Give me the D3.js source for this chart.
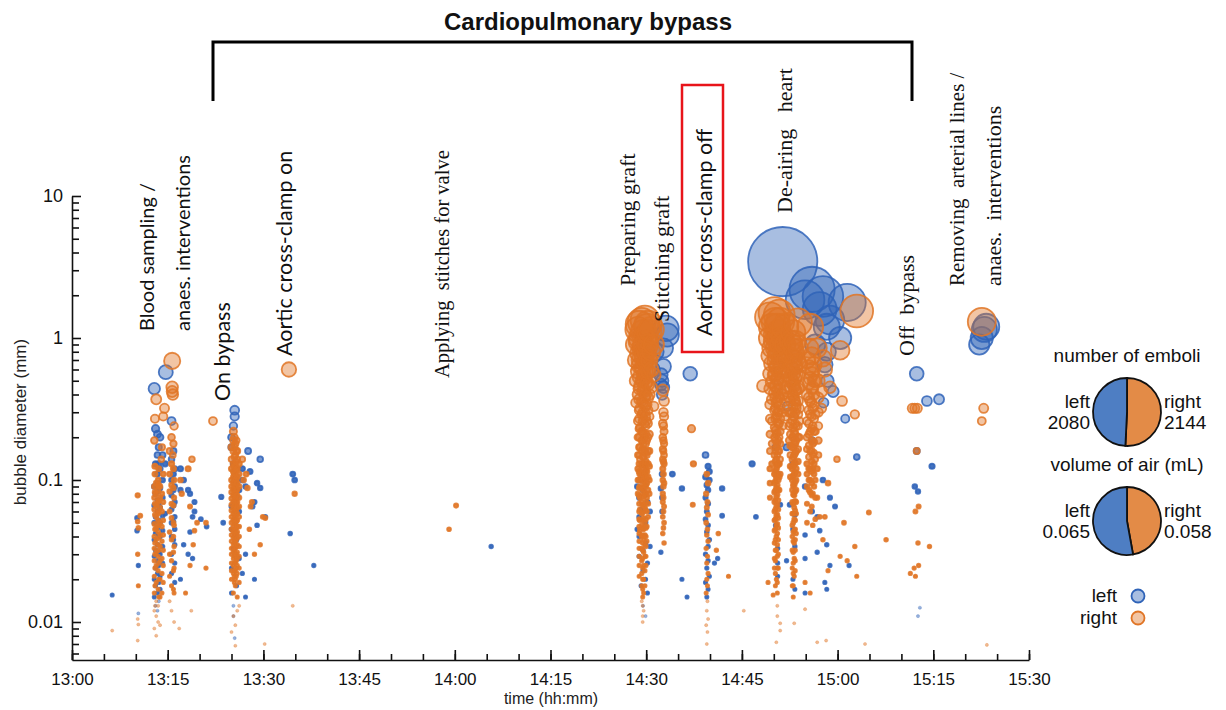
<!DOCTYPE html>
<html>
<head>
<meta charset="utf-8">
<script src="https://cdn.jsdelivr.net/npm/d3@7"></script>
<style>
  body { margin: 0; background: #fff; }
  text { font-family: "Liberation Sans", Arial, sans-serif; }
</style>
</head>
<body>
<svg id="chart" width="1226" height="710"></svg>
<script>
// each row: minutes after 13:00, then the bubble diameters (mm) seen at that time
var leftEmboli = [
  [6.3, [0.0155]],
  [10.2, [0.054, 0.044]], [10.4, [0.025, 0.0115]],
  [12.9, [0.44, 0.09, 0.066, 0.05, 0.038, 0.029, 0.02, 0.015]],
  [13.1, [0.23, 0.13, 0.08, 0.055, 0.042, 0.032, 0.024, 0.018, 0.013]],
  [13.4, [0.21, 0.15, 0.11, 0.095, 0.072, 0.06, 0.046, 0.035, 0.027, 0.022, 0.016, 0.012]],
  [13.6, [0.17, 0.13, 0.084, 0.068, 0.052, 0.041, 0.031, 0.025, 0.019, 0.014]],
  [13.8, [0.2, 0.12, 0.088, 0.064, 0.05, 0.04, 0.03, 0.021, 0.017]],
  [14.2, [0.15, 0.1, 0.075, 0.056, 0.044, 0.034, 0.026]],
  [14.6, [0.13, 0.058]], [14.7, [0.575]],
  [15.6, [0.26, 0.14, 0.1, 0.078, 0.062, 0.05, 0.04, 0.03, 0.022]],
  [15.9, [0.16, 0.11, 0.085, 0.066, 0.051, 0.038]],
  [16.1, [0.12, 0.09, 0.07, 0.055, 0.045, 0.035, 0.026, 0.019]],
  [17.0, [0.12, 0.085, 0.02]], [17.5, [0.1, 0.035]],
  [18.2, [0.085, 0.03]], [18.5, [0.08, 0.043]], [18.9, [0.055, 0.028]], [19.2, [0.06, 0.07]],
  [20.2, [0.053]], [21.1, [0.047]],
  [23.4, [0.076]], [23.7, [0.05]],
  [25.0, [0.2, 0.17, 0.065, 0.045, 0.024, 0.016]],
  [25.3, [0.24, 0.13, 0.033, 0.013, 0.011]],
  [25.5, [0.31, 0.28, 0.0077]],
  [25.8, [0.1, 0.075, 0.038, 0.018]],
  [26.2, [0.085, 0.028, 0.06]],
  [26.7, [0.12, 0.1, 0.022]],
  [27.2, [0.09, 0.03, 0.015]],
  [27.6, [0.16]], [27.9, [0.115]], [28.3, [0.065]], [28.6, [0.07, 0.02]],
  [29.0, [0.095, 0.048]], [29.5, [0.14, 0.088]], [30.3, [0.055]],
  [34.2, [0.042]], [34.6, [0.11]], [34.9, [0.1]], [37.9, [0.025]],
  [65.7, [0.034]],
  [88.6, [0.09, 0.045]], [88.9, [0.075, 0.055, 0.04, 0.029]],
  [89.2, [0.1, 0.062, 0.018]], [89.5, [0.085, 0.032, 0.023, 0.013]],
  [89.9, [0.05, 0.036, 0.02, 0.011]], [90.2, [0.07, 0.026, 0.016]], [90.6, [0.06, 0.034]],
  [91.0, [0.6]], [91.3, [0.8]],
  [92.3, [0.55, 0.47, 0.087, 0.031]], [92.5, [0.5, 0.4, 0.11, 0.075, 0.06]], [92.7, [0.85, 0.63, 0.45]],
  [93.1, [1.17]], [93.3, [1.05]],
  [94.1, [0.11]], [95.6, [0.087, 0.02]], [96.4, [0.015]], [96.9, [0.56]],
  [99.3, [0.15, 0.105, 0.075, 0.053, 0.03, 0.019]],
  [99.5, [0.092, 0.06, 0.043, 0.024, 0.015]],
  [99.7, [0.125, 0.085, 0.068, 0.048, 0.034, 0.027, 0.017]],
  [99.9, [0.115, 0.1, 0.038, 0.021]],
  [100.7, [0.026]], [101.2, [0.028]], [101.9, [0.087, 0.056]],
  [106.6, [0.13]], [107.2, [0.055]],
  [110.3, [0.17, 0.048]], [110.6, [0.11, 0.033, 0.026, 0.021]], [111.0, [0.067]], [111.4, [3.45]],
  [112.0, [0.17, 0.027]], [112.1, [0.33]], [112.5, [0.067]],
  [113.0, [0.13, 0.045, 0.02]], [113.3, [0.057, 0.034, 0.017]],
  [114.9, [1.86, 0.09, 0.041, 0.028, 0.016]],
  [116.0, [2.2, 0.19, 0.06]], [116.5, [0.9]], [116.8, [0.055, 0.031]],
  [117.2, [1.6, 0.044]], [117.7, [1.96, 0.1]],
  [117.8, [0.35]], [118.0, [0.65, 0.019]], [118.3, [1.2, 0.8, 0.035, 0.017]], [118.4, [0.5]],
  [118.8, [1.34, 0.075, 0.025]], [119.3, [0.42]], [119.6, [0.065]], [120.4, [1.0]],
  [121.2, [0.27]], [121.5, [1.78]], [121.8, [0.025]], [123.0, [0.145]],
  [132.1, [0.09]], [132.4, [0.56, 0.16]], [132.6, [0.083, 0.011]], [132.9, [0.0126]],
  [134.0, [0.36]], [134.8, [0.125]], [135.9, [0.37]],
  [142.2, [0.9]], [142.6, [1.0]], [143.0, [1.15]], [143.3, [1.2]]
];

var rightEmboli = [
  [6.3, [0.0087]],
  [10.3, [0.078, 0.051, 0.03, 0.0105, 0.0074]], [10.4, [0.046, 0.018, 0.0096]], [10.7, [0.056]],
  [12.9, [0.19, 0.09, 0.075, 0.062, 0.049, 0.04, 0.033, 0.027, 0.021, 0.016, 0.012, 0.009]],
  [13.0, [0.27, 0.125, 0.11, 0.082, 0.068, 0.057, 0.045, 0.036, 0.03, 0.024, 0.018, 0.013]],
  [13.2, [0.37, 0.095, 0.08, 0.066, 0.055, 0.046, 0.038, 0.031, 0.025, 0.019, 0.014, 0.011, 0.008]],
  [13.5, [0.1, 0.085, 0.07, 0.058, 0.052, 0.043, 0.035, 0.029, 0.023, 0.017, 0.013, 0.01]],
  [13.6, [0.12, 0.092, 0.072, 0.06, 0.048, 0.039, 0.032, 0.026, 0.02, 0.015]],
  [13.8, [0.09, 0.075, 0.064, 0.05, 0.041, 0.034, 0.027, 0.02, 0.015, 0.0095]],
  [14.0, [0.14]], [14.1, [0.17, 0.08, 0.06, 0.047, 0.037, 0.028, 0.022, 0.016]],
  [14.3, [0.28, 0.11, 0.07, 0.052, 0.041, 0.032, 0.025, 0.019]], [14.5, [0.32]],
  [15.3, [0.16, 0.11, 0.083, 0.06, 0.043, 0.03, 0.021, 0.014]],
  [15.6, [0.2, 0.13, 0.092, 0.068, 0.054, 0.038, 0.027, 0.018, 0.012]],
  [15.7, [0.69, 0.45, 0.42]], [15.8, [0.4, 0.15]],
  [15.9, [0.18, 0.12, 0.088, 0.066, 0.05, 0.04, 0.031, 0.023, 0.017]],
  [16.0, [0.24, 0.1, 0.075, 0.048, 0.034, 0.024, 0.016, 0.01]],
  [16.8, [0.009]], [17.0, [0.1]], [17.2, [0.08]], [17.8, [0.016]],
  [18.2, [0.12]], [18.5, [0.065, 0.025]], [18.7, [0.012]], [18.8, [0.14]], [19.0, [0.035]],
  [19.2, [0.044]], [19.6, [0.05]], [21.0, [0.05, 0.024]],
  [22.1, [0.26]],
  [25.0, [0.17, 0.14, 0.12, 0.1, 0.09, 0.082, 0.074, 0.067, 0.061, 0.055, 0.05, 0.045, 0.041, 0.037, 0.033, 0.03, 0.026, 0.023, 0.02, 0.0085]],
  [25.3, [0.22, 0.19, 0.16, 0.13, 0.115, 0.105, 0.095, 0.086, 0.078, 0.07, 0.064, 0.058, 0.052, 0.047, 0.043, 0.039, 0.035, 0.031, 0.028, 0.025, 0.022, 0.016, 0.011]],
  [25.45, [0.2, 0.17, 0.145, 0.125, 0.11, 0.098, 0.088, 0.08, 0.072, 0.065, 0.06, 0.054, 0.049, 0.044, 0.04, 0.036, 0.032, 0.029, 0.026, 0.023, 0.021, 0.019]],
  [25.6, [0.18, 0.15, 0.125, 0.11, 0.1, 0.09, 0.082, 0.074, 0.067, 0.061, 0.055, 0.05, 0.045, 0.041, 0.037, 0.033, 0.03, 0.026, 0.023, 0.02, 0.018, 0.0095, 0.0068]],
  [25.75, [0.19, 0.16, 0.135, 0.118, 0.102, 0.092, 0.083, 0.076, 0.069, 0.062, 0.057, 0.051, 0.046, 0.042, 0.038, 0.034, 0.03, 0.027, 0.024, 0.021]],
  [25.9, [0.16, 0.14, 0.12, 0.105, 0.095, 0.086, 0.078, 0.07, 0.064, 0.058, 0.052, 0.047, 0.043, 0.039, 0.035, 0.031, 0.028, 0.025, 0.022, 0.015, 0.012]],
  [26.2, [0.13, 0.11, 0.09, 0.075, 0.065, 0.055, 0.047, 0.04, 0.034, 0.029, 0.024, 0.019, 0.013]],
  [26.7, [0.14]], [26.9, [0.1]], [27.3, [0.11]], [27.5, [0.088]], [27.8, [0.045]], [28.0, [0.065]],
  [28.2, [0.07]], [28.6, [0.03]], [29.5, [0.035]], [29.9, [0.055]], [30.2, [0.007]], [30.3, [0.054]],
  [34.0, [0.6]], [34.6, [0.013]], [34.9, [0.08]],
  [59.1, [0.045]], [60.2, [0.066]],
  [88.4, [0.9, 0.7, 0.5, 0.35]],
  [88.7, [1.15, 0.58, 0.4, 0.26, 0.2, 0.15, 0.12, 0.1, 0.08]],
  [88.9, [1.25, 0.95, 0.78, 0.64, 0.53, 0.44, 0.37, 0.31, 0.27, 0.23, 0.2, 0.17, 0.15, 0.13, 0.115, 0.1, 0.088, 0.078, 0.068, 0.06, 0.053, 0.047, 0.042, 0.037, 0.033, 0.029, 0.025, 0.021]],
  [89.0, [1.0, 0.7, 0.46, 0.32, 0.235, 0.17, 0.14, 0.11, 0.09, 0.075, 0.062, 0.052, 0.044]],
  [89.3, [1.3, 0.85, 0.62, 0.5, 0.36, 0.29, 0.22, 0.19, 0.16, 0.13, 0.105, 0.088, 0.07, 0.058, 0.048, 0.04, 0.033, 0.027, 0.022, 0.018, 0.014]],
  [89.45, [1.1, 0.88, 0.72, 0.6, 0.5, 0.42, 0.35, 0.3, 0.26, 0.22, 0.19, 0.165, 0.145, 0.128, 0.112, 0.098, 0.086, 0.076, 0.067, 0.059, 0.052, 0.046, 0.041, 0.036, 0.032, 0.028, 0.024, 0.02, 0.017, 0.015, 0.013, 0.011, 0.01]],
  [89.6, [0.9, 0.75, 0.55, 0.44, 0.34, 0.27, 0.21, 0.18, 0.145, 0.12, 0.1, 0.082, 0.066, 0.054, 0.045, 0.038, 0.031, 0.025, 0.02, 0.016, 0.012]],
  [89.8, [1.34, 0.66, 0.52, 0.42, 0.38, 0.3, 0.25, 0.2, 0.16, 0.13, 0.11, 0.092, 0.078, 0.064, 0.05, 0.041, 0.035, 0.029, 0.023, 0.018]],
  [89.95, [1.05, 0.85, 0.7, 0.58, 0.48, 0.4, 0.33, 0.28, 0.24, 0.21, 0.18, 0.155, 0.135, 0.118, 0.104, 0.091, 0.08, 0.07, 0.061, 0.053, 0.046, 0.04, 0.034, 0.029, 0.025]],
  [90.1, [1.2, 0.95, 0.8, 0.49, 0.34, 0.26, 0.19, 0.15, 0.115, 0.095, 0.075, 0.06, 0.047, 0.037]],
  [90.3, [1.25, 0.9, 0.72, 0.58, 0.47, 0.38, 0.31, 0.25, 0.2, 0.16, 0.13, 0.105, 0.085, 0.068, 0.055]],
  [90.5, [1.1, 0.7, 0.4, 0.28, 0.21, 0.16, 0.125, 0.1, 0.08]],
  [90.8, [1.15, 0.8, 0.6, 0.45]],
  [91.2, [0.9, 0.55, 0.33]],
  [92.6, [0.43, 0.25, 0.2, 0.165, 0.14, 0.12, 0.1, 0.08, 0.07, 0.055, 0.042]],
  [92.7, [0.3, 0.24, 0.19, 0.16, 0.135, 0.11, 0.09, 0.075, 0.06, 0.046]],
  [92.8, [0.36, 0.28, 0.22, 0.18, 0.15, 0.13, 0.095, 0.065, 0.05, 0.036]],
  [97.1, [0.23]], [97.3, [0.067]], [97.4, [0.13]],
  [99.4, [0.08, 0.05, 0.033, 0.016, 0.0095]],
  [99.5, [0.11, 0.064, 0.041, 0.026, 0.02, 0.012, 0.007]],
  [99.6, [0.07, 0.045, 0.029, 0.018, 0.014, 0.0085]],
  [99.7, [0.095, 0.057, 0.037, 0.022, 0.0105]],
  [101.0, [0.032]], [101.3, [0.042]], [102.9, [0.021]],
  [105.3, [0.012]], [108.3, [0.46]], [109.1, [0.019]],
  [109.4, [1.4, 1.0, 0.75, 0.56, 0.44, 0.34, 0.27, 0.21, 0.16, 0.12, 0.095, 0.075]],
  [109.7, [1.2, 0.85, 0.66, 0.49, 0.37, 0.26, 0.18, 0.13]],
  [109.9, [0.0155]],
  [110.1, [1.5, 0.95, 0.55, 0.41, 0.31, 0.235, 0.2, 0.15, 0.11, 0.095, 0.082, 0.07, 0.06, 0.052, 0.044, 0.036, 0.028, 0.024]],
  [110.25, [1.3, 1.05, 0.85, 0.68, 0.56, 0.46, 0.38, 0.32, 0.27, 0.225, 0.19, 0.16, 0.135, 0.115, 0.098, 0.084, 0.072, 0.062, 0.053, 0.045, 0.038, 0.032, 0.027, 0.022, 0.018]],
  [110.4, [0.75, 0.62, 0.46, 0.35, 0.28, 0.21, 0.17, 0.14, 0.12, 0.105, 0.088, 0.076, 0.065, 0.056, 0.048, 0.04, 0.032, 0.02, 0.0072]],
  [110.55, [1.2, 0.98, 0.8, 0.64, 0.52, 0.43, 0.36, 0.3, 0.255, 0.215, 0.18, 0.15, 0.127, 0.108, 0.092, 0.079, 0.067, 0.057, 0.049, 0.042, 0.035, 0.029, 0.024, 0.019, 0.016, 0.013, 0.011]],
  [110.7, [1.1, 0.52, 0.39, 0.3, 0.25, 0.19, 0.16, 0.13, 0.1, 0.085, 0.072, 0.062, 0.054, 0.046, 0.038, 0.03, 0.024]],
  [110.85, [1.45, 1.0, 0.78, 0.6, 0.48, 0.38, 0.31, 0.25, 0.2, 0.16, 0.13, 0.105, 0.085]],
  [111.0, [1.3, 0.9, 0.7, 0.43, 0.33, 0.27, 0.22, 0.18, 0.14, 0.11, 0.0098, 0.0087]],
  [111.4, [1.0, 0.8, 0.58, 0.4, 0.3, 0.24]],
  [111.8, [1.2, 0.9, 0.7, 0.55, 0.45, 0.36, 0.28]],
  [112.4, [0.5, 0.38, 0.3, 0.24, 0.19]],
  [112.6, [0.95, 0.75, 0.62, 0.52, 0.44, 0.36, 0.3, 0.25, 0.21, 0.175, 0.15, 0.125, 0.105]],
  [112.9, [0.9, 0.6, 0.5, 0.4, 0.3, 0.26, 0.2, 0.17, 0.14, 0.12, 0.1, 0.085, 0.07, 0.058, 0.048, 0.04, 0.032, 0.024, 0.018]],
  [113.05, [1.1, 0.85, 0.68, 0.56, 0.47, 0.39, 0.33, 0.28, 0.235, 0.2, 0.17, 0.145, 0.125, 0.107, 0.092, 0.079, 0.068, 0.058, 0.05, 0.043, 0.037, 0.031, 0.026, 0.022, 0.018, 0.015]],
  [113.2, [0.72, 0.46, 0.37, 0.28, 0.22, 0.18, 0.15, 0.13, 0.11, 0.092, 0.078, 0.064, 0.053, 0.044, 0.036, 0.028, 0.021, 0.0098]],
  [113.35, [0.95, 0.78, 0.63, 0.52, 0.43, 0.36, 0.3, 0.25, 0.21, 0.18, 0.155, 0.132, 0.113, 0.097, 0.083, 0.071, 0.061, 0.052, 0.045, 0.038, 0.032, 0.027, 0.023]],
  [113.5, [0.55, 0.43, 0.34, 0.32, 0.24, 0.19, 0.16, 0.12, 0.1, 0.085, 0.07, 0.058, 0.042]],
  [113.8, [1.29, 0.85, 0.68, 0.55, 0.44, 0.36, 0.29, 0.24, 0.2, 0.165, 0.135, 0.11]],
  [114.0, [0.65, 0.45, 0.32, 0.26, 0.2]],
  [114.9, [0.019, 0.0123]],
  [115.2, [0.7, 0.4, 0.26, 0.2, 0.165, 0.13, 0.11, 0.09, 0.068, 0.05]],
  [115.5, [0.85, 0.62, 0.48, 0.38, 0.31, 0.25, 0.21, 0.175, 0.145, 0.12, 0.1, 0.085]],
  [115.7, [1.2, 0.52, 0.36, 0.29, 0.22, 0.16, 0.12, 0.1, 0.082, 0.06, 0.016]],
  [115.95, [0.75, 0.56, 0.44, 0.35, 0.28, 0.23, 0.19, 0.16, 0.135, 0.115, 0.095, 0.078, 0.065]],
  [116.1, [0.6, 0.45, 0.32, 0.24, 0.18, 0.15, 0.12, 0.08, 0.048]],
  [116.3, [0.65, 0.5, 0.4, 0.33, 0.27, 0.22, 0.185, 0.155, 0.13, 0.11, 0.09]],
  [116.5, [0.5, 0.29, 0.22, 0.14, 0.1, 0.075, 0.053]],
  [116.8, [0.85, 0.12, 0.075, 0.0072]],
  [117.0, [0.5, 0.38, 0.3, 0.24, 0.19, 0.15]],
  [117.2, [0.055]], [117.5, [0.42, 0.32]], [117.7, [0.72, 0.038]],
  [118.0, [0.6, 0.055]], [118.2, [0.0074]], [118.5, [0.095, 0.023]],
  [118.8, [0.45]], [119.9, [0.14]],
  [120.4, [0.82, 0.029]], [120.7, [0.36]], [121.0, [0.05]], [121.5, [0.027]],
  [122.7, [0.29, 0.034]], [123.0, [1.55, 0.021]], [124.3, [0.007]], [124.9, [0.059]], [127.6, [0.038]],
  [131.4, [0.022]], [131.7, [0.32]], [132.0, [0.024]], [132.1, [0.32]], [132.2, [0.06, 0.021]],
  [132.4, [0.16]], [132.5, [0.32]], [132.6, [0.036]], [132.7, [0.065, 0.025]], [134.4, [0.034]],
  [142.6, [1.3, 0.26]], [142.9, [0.32]], [143.4, [0.0069]]
];

var sides = ['left', 'right'];
var emboliCount = [2080, 2144];
var airVolume = [0.065, 0.058];
var airVolumeText = ['0.065', '0.058'];
var xTickLabels = ['13:00', '13:15', '13:30', '13:45', '14:00', '14:15', '14:30', '14:45', '15:00', '15:15', '15:30'];
var yTickValues = [0.01, 0.1, 1, 10];

var svg = d3.select('#chart');
var colors = { left: '#2f63b8', right: '#e07526' };
var pieColors = { left: '#4e7ec3', right: '#e38b47' };

var base = new Date(2000, 0, 1, 13, 0);
function atMinute(m) { return new Date(base.getTime() + m * 60000); }
function parseClock(s) {
  var p = s.split(':');
  return atMinute((+p[0] - 13) * 60 + (+p[1]));
}

var x = d3.scaleTime().domain([atMinute(0), atMinute(150)]).range([72, 1029]);
var y = d3.scaleLog().domain([0.0054, 10]).range([660, 196]);

// axes
var minorX = d3.range(0, 151, 5).map(atMinute);
svg.append('g')
    .attr('transform', 'translate(0,660)')
    .call(d3.axisBottom(x).tickValues(minorX).tickFormat('').tickSize(-6).tickSizeOuter(0))
    .call(function (g) { g.select('.domain').remove(); });
var xAxis = svg.append('g')
    .attr('transform', 'translate(0,660)')
    .call(d3.axisBottom(x).tickValues(xTickLabels.map(parseClock))
        .tickFormat(d3.timeFormat('%H:%M')).tickSize(-10).tickSizeOuter(0).tickPadding(13));
xAxis.selectAll('text').attr('font-size', 17).attr('fill', '#111')
    .style('font-family', '"Liberation Sans", Arial, sans-serif');

var minorY = [];
[0.001, 0.01, 0.1, 1].forEach(function (dec) {
  for (var k = 2; k <= 9; k++) {
    var v = dec * k;
    if (v >= 0.0054 && v < 10) minorY.push(v);
  }
});
svg.append('g')
    .attr('transform', 'translate(72,0)')
    .call(d3.axisLeft(y).tickValues(minorY).tickFormat('').tickSize(-7).tickSizeOuter(0))
    .call(function (g) { g.select('.domain').remove(); });
var yAxis = svg.append('g')
    .attr('transform', 'translate(72,0)')
    .call(d3.axisLeft(y).tickValues(yTickValues).tickFormat(d3.format('~g')).tickSize(-9).tickSizeOuter(0).tickPadding(9));
yAxis.selectAll('text').attr('font-size', 18).attr('fill', '#111')
    .style('font-family', '"Liberation Sans", Arial, sans-serif');
svg.selectAll('.domain, .tick line').attr('stroke', '#111').attr('stroke-width', 1.6);

svg.append('text')
    .attr('transform', 'translate(26,422) rotate(-90)')
    .attr('text-anchor', 'middle')
    .attr('font-size', 17)
    .attr('fill', '#222')
    .text('bubble diameter (mm)');
svg.append('text')
    .attr('x', 551).attr('y', 704)
    .attr('text-anchor', 'middle')
    .attr('font-size', 16)
    .attr('fill', '#222')
    .text('time (hh:mm)');

// bubbles
function flatten(rows, side) {
  var out = [];
  rows.forEach(function (r) {
    r[1].forEach(function (d) { out.push({ t: r[0], d: d, side: side }); });
  });
  return out;
}
function radius(d) { return 1.5 + 9.6 * d; }
function fillOpacity(d) {
  var r = radius(d);
  if (d < 0.015) return 0.5;
  if (r < 2.8) return 0.9;
  if (r < 3.8) return 0.65;
  return 0.42;
}

var bubbles = flatten(leftEmboli, 'left').concat(flatten(rightEmboli, 'right'));
svg.append('g').selectAll('circle')
    .data(bubbles)
    .enter().append('circle')
    .attr('cx', function (d) { return x(atMinute(d.t)); })
    .attr('cy', function (d) { return y(d.d); })
    .attr('r', function (d) { return radius(d.d); })
    .attr('fill', function (d) { return colors[d.side]; })
    .attr('fill-opacity', function (d) { return fillOpacity(d.d); })
    .attr('stroke', function (d) { return colors[d.side]; })
    .attr('stroke-opacity', function (d) { return d.d < 0.015 ? 0.45 : 0.85; })
    .attr('stroke-width', function (d) { return d.d < 0.015 ? 0.6 : 1.8; });

// cardiopulmonary bypass bracket
svg.append('path')
    .attr('d', 'M213,101V42H912V101')
    .attr('fill', 'none')
    .attr('stroke', '#000')
    .attr('stroke-width', 3);
svg.append('text')
    .attr('x', 588).attr('y', 30)
    .attr('text-anchor', 'middle')
    .attr('font-size', 24)
    .attr('font-weight', 'bold')
    .attr('fill', '#111')
    .text('Cardiopulmonary bypass');

// event labels, written bottom-to-top
var sans = 'Lato, "Liberation Sans", sans-serif';
var serif = '"Liberation Serif", "Times New Roman", serif';
var notes = [
  { text: 'Blood sampling /', x: 147, y: 331, font: sans, size: 20 },
  { text: 'anaes. interventions', x: 183, y: 331, font: sans, size: 20 },
  { text: 'On bypass', x: 222, y: 401, font: sans, size: 21.5 },
  { text: 'Aortic cross-clamp on', x: 284, y: 356, font: sans, size: 21.5 },
  { text: 'Applying  stitches for valve', x: 442, y: 378, font: serif, size: 20.5 },
  { text: 'Preparing graft', x: 627, y: 286, font: serif, size: 22 },
  { text: 'Stitching graft', x: 661, y: 322, font: serif, size: 22 },
  { text: 'Aortic cross-clamp off', x: 704, y: 336, font: sans, size: 21.5 },
  { text: 'De-airing   heart', x: 784, y: 213, font: serif, size: 22 },
  { text: 'Off  bypass', x: 906, y: 356, font: serif, size: 22 },
  { text: 'Removing  arterial lines /', x: 957, y: 286, font: serif, size: 21 },
  { text: 'anaes.  interventions', x: 993, y: 286, font: serif, size: 22 }
];
svg.append('g').selectAll('text')
    .data(notes)
    .enter().append('text')
    .attr('transform', function (d) { return 'translate(' + d.x + ',' + d.y + ') rotate(-90)'; })
    .attr('dy', '0.35em')
    .attr('font-size', function (d) { return d.size; })
    .attr('fill', '#111')
    .style('font-family', function (d) { return d.font; })
    .style('white-space', 'pre')
    .text(function (d) { return d.text; });
svg.append('rect')
    .attr('x', 682).attr('y', 85).attr('width', 41).attr('height', 267)
    .attr('fill', 'none')
    .attr('stroke', '#e8141a')
    .attr('stroke-width', 2.5);

// legend pies
var pie = d3.pie().sort(null).value(function (d) { return d.v; });
var arc = d3.arc().innerRadius(0).outerRadius(34);
function drawPie(title, cy, values, texts) {
  var g = svg.append('g');
  g.append('text')
      .attr('x', 1127).attr('y', cy - 50)
      .attr('text-anchor', 'middle')
      .attr('font-size', 19)
      .attr('fill', '#111')
      .text(title);
  var parts = [{ side: 'right', v: values[1] }, { side: 'left', v: values[0] }];
  g.append('g')
      .attr('transform', 'translate(1127,' + cy + ')')
      .selectAll('path')
      .data(pie(parts))
      .enter().append('path')
      .attr('d', arc)
      .attr('fill', function (d) { return pieColors[d.data.side]; })
      .attr('stroke', '#111')
      .attr('stroke-width', 1.8);
  sides.forEach(function (s, i) {
    var lx = i === 0 ? 1090 : 1164;
    var t = g.append('text')
        .attr('x', lx).attr('y', cy - 4)
        .attr('text-anchor', i === 0 ? 'end' : 'start')
        .attr('font-size', 19)
        .attr('fill', '#111');
    t.append('tspan').attr('x', lx).text(s);
    t.append('tspan').attr('x', lx).attr('dy', 21).text(texts[i]);
  });
}
drawPie('number of emboli', 412, emboliCount, emboliCount.map(String));
drawPie('volume of air (mL)', 521, airVolume, airVolumeText);

// legend markers
var legend = svg.append('g');
sides.forEach(function (s, i) {
  var ly = 596 + i * 22;
  legend.append('text')
      .attr('x', 1117).attr('y', ly + 6)
      .attr('text-anchor', 'end')
      .attr('font-size', 19)
      .attr('fill', '#111')
      .text(s);
  legend.append('circle')
      .attr('cx', 1138).attr('cy', ly)
      .attr('r', 6.5)
      .attr('fill', colors[s]).attr('fill-opacity', 0.42)
      .attr('stroke', colors[s]).attr('stroke-width', 1.8);
});
</script>
</body>
</html>
